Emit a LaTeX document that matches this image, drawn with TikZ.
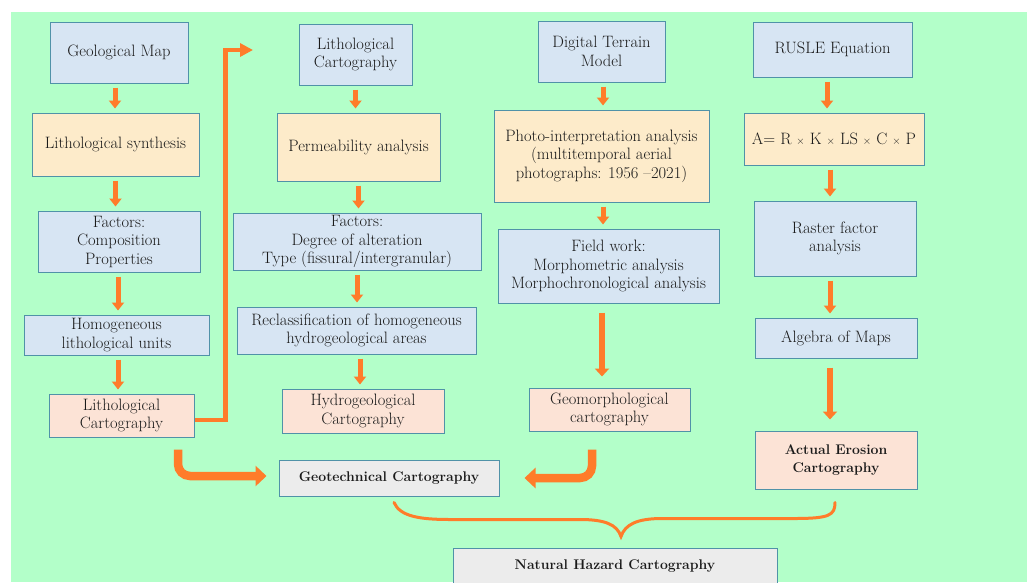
\documentclass[tikz,border=0pt]{standalone}
\usetikzlibrary{arrows.meta}

\definecolor{sheetgreen}{HTML}{B3FFC9}
\definecolor{boxline}{HTML}{5092A8}
\definecolor{databg}{HTML}{D7E5F3}
\definecolor{analysisbg}{HTML}{FDEBCA}
\definecolor{resultbg}{HTML}{FCE3D6}
\definecolor{finalbg}{HTML}{ECECEC}
\definecolor{flow}{HTML}{FF7C2A}
\definecolor{ink}{HTML}{1A1A1A}

\newcommand{\tms}{{\fontsize{11}{11}\selectfont ×}}

\tikzset{
    % boxes
    box/.style={
        draw=boxline,
        line width=1pt,
        align=center,
        inner sep=2pt,
        text=ink,
        font=\fontsize{16.5}{18.5}\selectfont
    },
    box-size/.style 2 args={
        minimum width=#1pt,
        minimum height=#2pt
    },
    box-data/.style={box, fill=databg},
    box-analysis/.style={box, fill=analysisbg},
    box-result/.style={box, fill=resultbg},
    bold-text/.style={font=\fontsize{14}{18}\selectfont\bfseries},
    box-final/.style={box, fill=finalbg, bold-text},
    % arrows
    flow-arrow/.style={
        draw=flow,
        line width=5pt,
        -{Triangle[width=12pt,length=8pt]},
        shorten <=4pt,
        shorten >=4pt
    },
    long-flow/.style={
        line width=6.5pt,
        -{Triangle[width=14pt,length=8pt]},
        shorten <=9pt,
        shorten >=11pt
    },
    elbow-arrow/.style={
        draw=flow,
        line width=4.5pt,
        -{Triangle[width=13pt,length=13pt]}
    },
    bend-arrow/.style={
        draw=flow,
        line width=8.5pt,
        rounded corners=12pt,
        -{Triangle[width=20pt,length=11pt]}
    },
    brace-line/.style={
        draw=flow,
        line width=3pt,
        line cap=round
    }
}

\begin{document}
\begin{tikzpicture}[x=1pt, y=-1pt]

        \useasboundingbox (0,0) rectangle (1027,582);
        \clip (0,0) rectangle (1027,582);
        \fill[sheetgreen] (11,12) rectangle (1027,582);

        % lithology column
        \node[box-data, box-size={138}{61}] (geomap) at (119,52.5) {Geological Map};
        \node[box-analysis, box-size={167}{63}] (lithsyn) at (115.5,144.5) {Lithological synthesis};
        \node[box-data, box-size={162}{61}] (factorsA) at (119,241.5) {Factors:\\Composition\\Properties};
        \node[box-data, box-size={185}{40}] (homog) at (116.5,335) {Homogeneous\\lithological units};
        \node[box-result, box-size={145}{43}] (lithcartA) at (121.5,415.5) {Lithological\\Cartography};

        % hydrogeology column
        \node[box-data, box-size={113}{61}] (lithcartB) at (355.5,54.5) {Lithological\\Cartography};
        \node[box-analysis, box-size={163}{68}] (perm) at (358.5,147) {Permeability analysis};
        \node[box-data, box-size={248}{57}] (factorsB) at (357,241.5) {Factors:\\Degree of alteration\\Type (fissural/intergranular)};
        \node[box-data, box-size={239}{47}] (reclass) at (356.5,330.5) {Reclassification of homogeneous\\hydrogeological areas};
        \node[box-result, box-size={162}{44}] (hydro) at (363,411) {Hydrogeological\\Cartography};

        % geomorphology column
        \node[box-data, box-size={127}{61}] (dtm) at (601.5,51.5) {Digital Terrain\\Model};
        \node[box-analysis, box-size={215}{92}] (photo) at (601.5,156) {Photo-interpretation analysis\\(multitemporal aerial\\photographs: 1956 --2021)};
        \node[box-data, box-size={221}{74}] (field) at (608.5,266) {Field work:\\Morphometric analysis\\Morphochronological analysis};
        \node[box-result, box-size={161}{43}] (geomorph) at (609.5,409.5) {Geomorphological\\cartography};

        % erosion column
        \node[box-data, box-size={159}{55}] (rusle) at (832.5,49.5) {RUSLE Equation};
        \node[box-analysis, box-size={180}{52}] (rusleeq) at (834,139) {A= R \tms{} K \tms{} LS \tms{} C \tms{} P};
        \node[box-data, box-size={162}{75}] (raster) at (835,238.5) {Raster factor\\analysis};
        \node[box-data, box-size={162}{40}] (algebra) at (836,338) {Algebra of Maps};
        \node[box-result, box-size={162}{58}, bold-text] (erosion) at (836,460) {Actual Erosion\\Cartography};

        % final products
        \node[box-final, box-size={220}{36}] (geotech) at (389,478) {Geotechnical Cartography};
        \node[box-final, box-size={324}{36}] (hazard) at (615,566) {Natural Hazard Cartography};

        % draw edges
        \foreach \a/\b/\dx in {geomap/lithsyn/-4, lithsyn/factorsA/0, factorsA/homog/-1, homog/lithcartA/1.5,
                               lithcartB/perm/0, perm/factorsB/0, factorsB/reclass/0, reclass/hydro/3.5,
                               dtm/photo/1.5, photo/field/1.5,
                               rusle/rusleeq/-5.5, rusleeq/raster/-4, raster/algebra/-5}
            \draw[flow-arrow] ([xshift=\dx pt]\a.south) -- ([xshift=\dx pt]\a.south |- \b.north);
        \draw[flow-arrow, long-flow] ([xshift=-6.5pt]field.south) -- ([xshift=-6.5pt]field.south |- geomorph.north);
        \draw[flow-arrow, long-flow] ([xshift=-6pt]algebra.south) -- ([xshift=-6pt]algebra.south |- erosion.north);

        % lithology feeds the hydrogeology column
        \coordinate (lith-tip) at (253,50);
        \draw[elbow-arrow] ([yshift=-4.5pt]lithcartA.east) -- ++(31,0) |- (lith-tip);

        % towards geotechnical cartography
        \draw[bend-arrow, shorten >=12pt] ([xshift=56.5pt,yshift=-12pt]lithcartA.south) |- ([yshift=2pt]geotech.west);
        \draw[bend-arrow, shorten >=25pt] ([xshift=-17.5pt,yshift=-18pt]geomorph.south) |- (geotech.east);

        % brace
        \coordinate (brace-left) at ([xshift=5pt,yshift=-6pt]geotech.south);
        \coordinate (brace-right) at ([xshift=-1pt,yshift=-13pt]erosion.south);
        \coordinate (brace-tip) at ([xshift=6pt,yshift=11pt]hazard.north);
        \draw[brace-line] (brace-left) .. controls +(6,14) and +(-30,0) .. ++(56,17)
            -- ++(130,0) .. controls +(25,0) and +(-4,-12) .. (brace-tip)
            .. controls +(4,-12) and +(-25,0) .. ++(41,-18)
            -- ++(132,0) .. controls +(35,0) and +(0,13) .. (brace-right);

\end{tikzpicture}
\end{document}
